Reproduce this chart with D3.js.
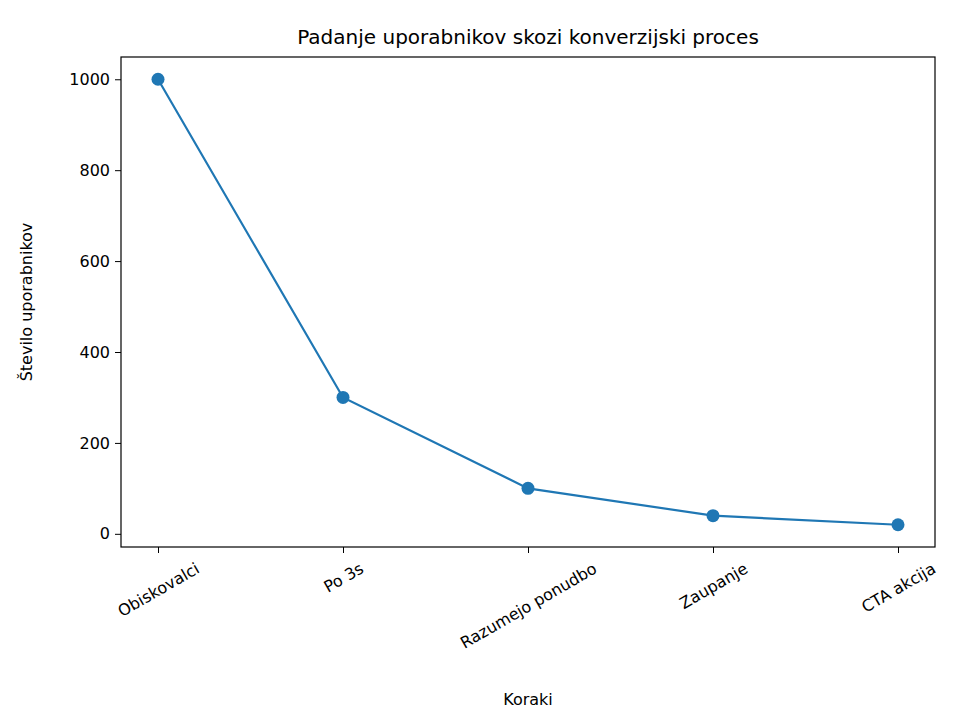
<!DOCTYPE html>
<html><head><meta charset="utf-8">
<script src="https://cdn.jsdelivr.net/npm/d3@7"></script>
<style>body{margin:0;background:#fff}text{font-family:"DejaVu Sans",sans-serif;fill:#000}</style>
</head><body><svg id="c" width="964" height="710"></svg>
<script>
const categories = ["Obiskovalci","Po 3s","Razumejo ponudbo","Zaupanje","CTA akcija"];
const values = [1000,300,100,40,20];
const yTicks = [0,200,400,600,800,1000];

const svg = d3.select("#c");
const L=121,R=935,T=57,B=547;
const x = d3.scalePoint().domain(categories).range([158,898]);
const y = d3.scaleLinear().domain([-29,1049]).range([B,T]);

svg.append("rect").attr("x",L).attr("y",T).attr("width",R-L).attr("height",B-T)
  .attr("fill","none").attr("stroke","#000").attr("stroke-width",1.2);

const ya = svg.append("g").attr("transform",`translate(${L},0)`)
  .call(d3.axisLeft(y).tickValues(yTicks).tickFormat(d3.format("d")).tickSize(6).tickPadding(5));
ya.select(".domain").remove();
ya.selectAll("text").style("font-size","16px").style("font-family","DejaVu Sans");

const xa = svg.append("g").attr("transform",`translate(0,${B})`)
  .call(d3.axisBottom(x).tickSize(6));
xa.select(".domain").remove();
xa.selectAll("text").style("font-size","16px").style("font-family","DejaVu Sans")
  .attr("text-anchor","middle").attr("dy","0.35em").attr("y",0)
  .attr("transform",function(){
    const w=this.getComputedTextLength();
    return `translate(0,${14+w*0.25+6}) rotate(-30)`;
  });

const line = d3.line().x((d,i)=>x(categories[i])).y(d=>y(d));
svg.append("path").datum(values).attr("d",line).attr("fill","none")
  .attr("stroke","#1f77b4").attr("stroke-width",2.2);
svg.selectAll("circle.p").data(values).enter().append("circle")
  .attr("cx",(d,i)=>x(categories[i])).attr("cy",d=>y(d)).attr("r",6.5).attr("fill","#1f77b4");

svg.append("text").attr("x",(L+R)/2).attr("y",44).attr("text-anchor","middle")
  .style("font-size","20px").text("Padanje uporabnikov skozi konverzijski proces");
svg.append("text").attr("x",(L+R)/2).attr("y",705).attr("text-anchor","middle")
  .style("font-size","16px").text("Koraki");
svg.append("text").attr("transform",`translate(32,${(T+B)/2}) rotate(-90)`).attr("text-anchor","middle")
  .style("font-size","16px").text("Število uporabnikov");
</script></body></html>
